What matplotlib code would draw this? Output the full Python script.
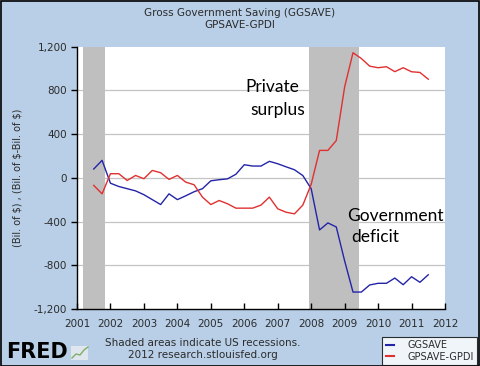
import matplotlib
matplotlib.use('Agg')
import matplotlib.pyplot as plt
from matplotlib.lines import Line2D
from matplotlib.patches import Rectangle
import numpy as np

# quarterly data, 2001Q3 - 2011Q3 (billions of $)
start_year = 2001.5
ggsave = [80, 159, -50, -80, -100, -120, -155, -200, -245, -147,
          -200, -165, -128, -100, -28, -18, -10, 32, 119, 107,
          107, 150, 128, 100, 73, 20, -100, -477, -413, -450,
          -760, -1045, -1045, -980, -965, -965, -917, -978, -905, -956,
          -887]
gpsave_gpdi = [-70, -147, 37, 37, -25, 21, -9, 67, 46, -15,
               21, -40, -64, -177, -245, -208, -238, -278, -278, -278,
               -250, -177, -284, -315, -330, -250, -60, 250, 250, 340,
               830, 1143, 1090, 1020, 1006, 1015, 970, 1006, 969, 963,
               901]
recessions = [(2001.17, 2001.83), (2007.92, 2009.42)]
yticks = [-1200, -800, -400, 0, 400, 800, 1200]
xyears = list(range(2001, 2013))

t = start_year + np.arange(len(ggsave)) * 0.25

bg = '#b8cfe7'
txt = '#2b2b2b'

fig = plt.figure(figsize=(4.8, 3.66), dpi=100, facecolor=bg)
ax = fig.add_axes([77/480, 1 - 309/366, 368/480, 262.5/366])
ax.set_facecolor('white')

for a, b in recessions:
    ax.axvspan(a, b, color='#bfbfbf', lw=0, zorder=1)

for v in [-800, -400, 0, 400, 800]:
    ax.axhline(v, color='#c4c4c4', lw=0.9, zorder=0.5)

ax.plot(t, ggsave, color='#2424a8', lw=1.0, zorder=3)
ax.plot(t, gpsave_gpdi, color='#e03030', lw=1.0, zorder=3)

ax.set_xlim(2001, 2012)
ax.set_ylim(-1200, 1200)
ax.set_yticks(yticks)
ax.set_yticklabels([f'{v:,}' for v in yticks])
ax.set_xticks(xyears)
ax.set_xticklabels([str(y) for y in xyears])

for s in ['top', 'right']:
    ax.spines[s].set_visible(False)
for s in ['left', 'bottom']:
    ax.spines[s].set_color('black')
    ax.spines[s].set_linewidth(1.0)

ax.tick_params(axis='y', direction='out', length=4, width=1, labelsize=7.5,
               labelcolor=txt, pad=3)
ax.tick_params(axis='x', direction='in', length=4, width=1, labelsize=7.5,
               labelcolor=txt, pad=7)

ax.set_ylabel('(Bil. of $) , (Bil. of $-Bil. of $)', fontsize=7, color=txt,
              labelpad=8)

# annotations
ann = dict(family='Lato', fontsize=12.5, va='center', ha='left',
           color='black', zorder=4)
ax.text(2006.02, 834, 'Private', **ann)
ax.text(2006.17, 624, 'surplus', **ann)
ax.text(2009.06, -346, 'Government', **ann)
ax.text(2009.21, -544, 'deficit', **ann)

# titles
fig.text(240/480, 1 - 13/366, 'Gross Government Saving (GGSAVE)',
         ha='center', va='center', fontsize=7.5, color=txt)
fig.text(240/480, 1 - 25/366, 'GPSAVE-GPDI',
         ha='center', va='center', fontsize=7.5, color=txt)

# footer
fig.text(203/480, 1 - 343/366, 'Shaded areas indicate US recessions.',
         ha='center', va='center', fontsize=7.5, color=txt)
fig.text(203/480, 1 - 355/366, '2012 research.stlouisfed.org',
         ha='center', va='center', fontsize=7.5, color=txt)
fig.text(6/480, 1 - 352/366, 'FRED', ha='left', va='center', fontsize=15,
         fontweight='heavy', color='black')
# small chart icon next to the logo
fig.add_artist(Rectangle((71/480, 1 - 360/366), 17/480, 14/366,
                         transform=fig.transFigure, facecolor='#dfe6ee',
                         edgecolor='none'))
fig.add_artist(Line2D(np.array([72, 76, 80, 84, 88]) / 480,
                      1 - np.array([358, 354, 355, 350, 347]) / 366,
                      transform=fig.transFigure, color='#7fae6a', lw=1))

# legend
handles = [Line2D([], [], color='#2424a8', lw=1.5),
           Line2D([], [], color='#e03030', lw=1.5)]
leg = fig.legend(handles, ['GGSAVE', 'GPSAVE-GPDI'], loc='lower right',
                 bbox_to_anchor=(477/480, 1/366), fontsize=7, frameon=True,
                 fancybox=False, handlelength=0.8, handletextpad=1.4,
                 borderpad=0.35, labelspacing=0.15, borderaxespad=0)
leg.get_frame().set_edgecolor('black')
leg.get_frame().set_linewidth(0.8)
for tx in leg.get_texts():
    tx.set_color(txt)

# figure border
fig.add_artist(Rectangle((0.5/480, 0.5/366), 478.5/480, 364.5/366,
                         transform=fig.transFigure, fill=False,
                         edgecolor='black', lw=1.2))

fig.savefig('out.png', dpi=100, facecolor=bg)
